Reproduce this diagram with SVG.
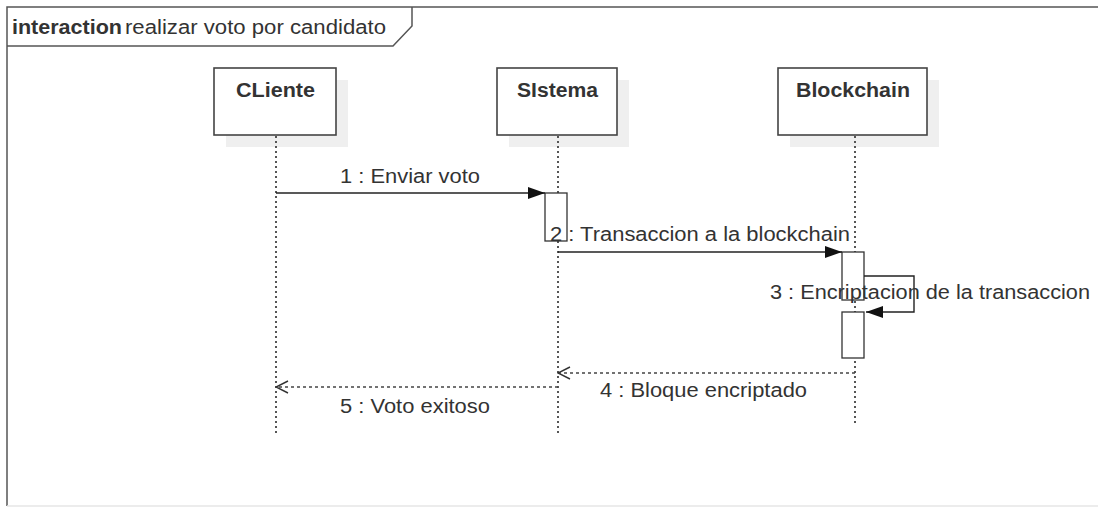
<svg xmlns="http://www.w3.org/2000/svg" width="1098" height="508" viewBox="0 0 1098 508">
<style>
  text { font-family: "Liberation Sans", Arial, sans-serif; fill: #333; }
  .lbl { font-size: 20px; }
  .head { font-size: 20px; font-weight: bold; }
  .frame { fill: none; stroke: #555; stroke-width: 1.5; }
  .box { fill: #fff; stroke: #444; stroke-width: 1.6; }
  .shadow { fill: #efefef; stroke: none; }
  .life { stroke: #444; stroke-width: 1.8; stroke-dasharray: 2 3; fill: none; }
  .act { fill: #fff; stroke: #333; stroke-width: 1.3; }
  .msg { stroke: #222; stroke-width: 1.4; fill: none; }
  .ret { stroke: #444; stroke-width: 1.5; stroke-dasharray: 3 3; fill: none; }
</style>
<defs>
  <marker id="filled" viewBox="0 0 17 12" refX="17" refY="6" markerWidth="17" markerHeight="12" markerUnits="userSpaceOnUse" orient="auto">
    <path d="M0,0 L17,6 L0,12 Z" fill="#111"/>
  </marker>
  <marker id="open" viewBox="0 0 14 14" refX="13" refY="7" markerWidth="14" markerHeight="14" markerUnits="userSpaceOnUse" orient="auto">
    <path d="M1,1 L13,7 L1,13" fill="none" stroke="#333" stroke-width="1.4"/>
  </marker>
</defs>
<rect width="1098" height="508" fill="#fff"/>

<g id="frame">
  <path class="frame" d="M7,506 L7,7 L1100,7"/>
  <path d="M7,506 L1098,506" stroke="#e6e6e6" stroke-width="1.5"/>
  <path class="frame" d="M7,46 L393,46 L412,26 L412,7"/>
  <text class="head" x="12" y="34" textLength="110" lengthAdjust="spacingAndGlyphs">interaction</text>
  <text class="lbl" x="125" y="34" textLength="261" lengthAdjust="spacingAndGlyphs">realizar voto por candidato</text>
</g>

<g id="cliente">
  <rect class="shadow" x="226" y="80" width="122" height="67"/>
  <line class="life" x1="276" y1="136" x2="276" y2="436"/>
  <rect class="box" x="214" y="68" width="122" height="67"/>
  <text class="head" x="236" y="97" textLength="79" lengthAdjust="spacingAndGlyphs">CLiente</text>
</g>

<g id="sistema">
  <rect class="shadow" x="509" y="80" width="120" height="67"/>
  <line class="life" x1="558" y1="136" x2="558" y2="436"/>
  <rect class="box" x="497" y="68" width="120" height="67"/>
  <text class="head" x="517" y="97" textLength="81" lengthAdjust="spacingAndGlyphs">SIstema</text>
  <rect class="act" x="545" y="193" width="22" height="48"/>
</g>

<g id="blockchain">
  <rect class="shadow" x="790" y="80" width="149" height="67"/>
  <line class="life" x1="855" y1="136" x2="855" y2="426"/>
  <rect class="box" x="778" y="68" width="149" height="67"/>
  <text class="head" x="796" y="97" textLength="114" lengthAdjust="spacingAndGlyphs">Blockchain</text>
  <rect class="act" x="842" y="252" width="22" height="48"/>
  <rect class="act" x="842" y="312" width="22" height="46"/>
</g>

<g id="connectors">
  <line class="msg" x1="276" y1="193" x2="545" y2="193" marker-end="url(#filled)"/>
  <text class="lbl" x="340" y="183" textLength="140" lengthAdjust="spacingAndGlyphs">1 : Enviar voto</text>

  <line class="msg" x1="558" y1="252" x2="842" y2="252" marker-end="url(#filled)"/>
  <text class="lbl" x="550" y="241" textLength="300" lengthAdjust="spacingAndGlyphs">2 : Transaccion a la blockchain</text>

  <path class="msg" d="M864,276 L914,276 L914,312 L866,312" marker-end="url(#filled)"/>
  <text class="lbl" x="770" y="299" textLength="320" lengthAdjust="spacingAndGlyphs">3 : Encriptacion de la transaccion</text>

  <line class="ret" x1="855" y1="373" x2="558" y2="373" marker-end="url(#open)"/>
  <text class="lbl" x="600" y="397" textLength="207" lengthAdjust="spacingAndGlyphs">4 : Bloque encriptado</text>

  <line class="ret" x1="558" y1="387" x2="276" y2="387" marker-end="url(#open)"/>
  <text class="lbl" x="340" y="413" textLength="150" lengthAdjust="spacingAndGlyphs">5 : Voto exitoso</text>
</g>
</svg>
